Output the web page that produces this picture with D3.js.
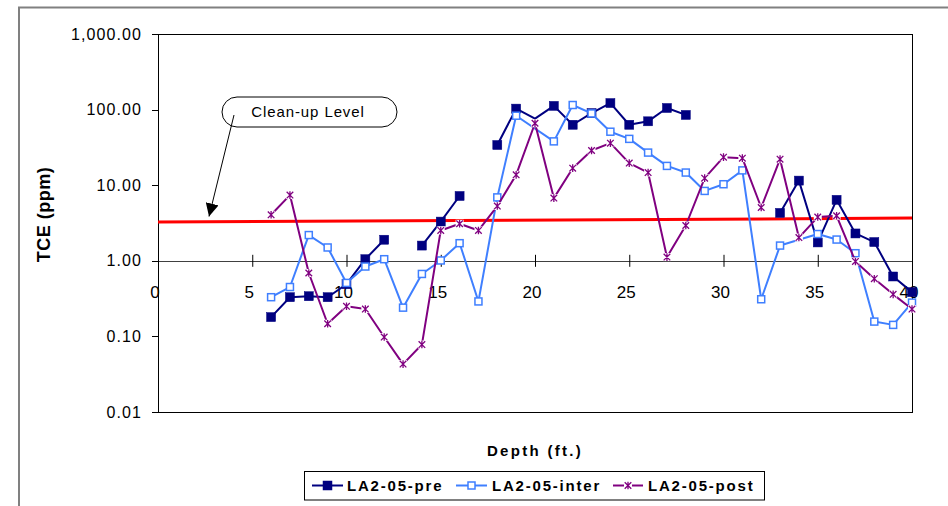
<!DOCTYPE html>
<html>
<head>
<meta charset="utf-8">
<script src="https://cdn.jsdelivr.net/npm/d3@7/dist/d3.min.js"></script>
<style>
  html, body { margin: 0; padding: 0; background: #fff; }
  svg { display: block; font-family: "Liberation Sans", Arial, sans-serif; }
</style>
</head>
<body>
<svg id="chart" width="948" height="506"></svg>
<script>
// TCE concentration profiles by depth, three sampling rounds
const preDepths = [6,7,8,9,10,11,12,13,14,15,16,17,18,19,20,21,22,23,24,25,26,27,28,29,30,31,32,33,34,35,36,37,38,39,40];
const preValues = [0.18,0.33,0.34,0.33,0.49,1.05,1.9,null,1.59,3.3,7.2,null,34,103,76,112,63,90,122,63,70,105,85,null,null,null,null,4.3,11.5,1.75,6.4,2.3,1.77,0.62,0.385];
const preNoMarker = [20];

const interDepths = [6,7,8,9,10,11,12,13,14,15,16,17,18,19,21,22,23,24,25,26,27,28,29,30,31,32,33,35,36,37,38,39,40];
const interValues = [0.33,0.45,2.19,1.5,0.51,0.84,1.05,0.24,0.67,1.01,1.71,0.29,6.9,83,38,115,89,51,41,27,18,14.7,8.4,10.3,15.7,0.31,1.59,2.26,1.91,1.26,0.157,0.142,0.28];

const postDepths = [6,7,8,9,10,11,12,13,14,15,16,17,18,19,20,21,22,23,24,25,26,27,28,29,30,31,32,33,34,35,36,37,38,39,40];
const postValues = [4.06,7.4,0.69,0.147,0.25,0.23,0.098,0.043,0.078,2.52,3.09,2.52,5.3,13.7,66,6.75,16.8,28.8,36,19.6,14.7,1.12,2.93,12.4,23.5,22.8,5.07,22.1,2.03,3.79,3.94,0.98,0.58,0.36,0.23];

// Clean-up level reference line (end points)
const cleanupDepths = [0, 40];
const cleanupValues = [3.25, 3.67];

const yTicks = [0.01, 0.1, 1, 10, 100, 1000];
const xTicks = [0, 5, 10, 15, 20, 25, 30, 35, 40];
const seriesNames = ["LA2-05-pre", "LA2-05-inter", "LA2-05-post"];
const seriesColors = ["#000080", "#3F7FFF", "#800080"];

const svg = d3.select("#chart");

// Outer chart frame
svg.append("rect")
  .attr("x", 19).attr("y", 7.5).attr("width", 1000).attr("height", 1000)
  .attr("fill", "none").attr("stroke", "#808080").attr("stroke-width", 2);

const x = d3.scaleLinear().domain([0, 40]).range([158, 912]);
const y = d3.scaleLog().domain([0.01, 1000]).range([412, 34]);

// Plot area border (top, right, bottom)
svg.append("path")
  .attr("d", `M${x(0)},${y(1000)}H${x(40)}V${y(0.01)}H${x(0)}`)
  .attr("fill", "none").attr("stroke", "#000").attr("stroke-width", 1)
  .attr("shape-rendering", "crispEdges");

// Y axis
const yAxis = svg.append("g")
  .attr("transform", `translate(${x(0)},0)`)
  .call(d3.axisLeft(y).tickValues(yTicks).tickFormat(d3.format(",.2f")).tickSize(6).tickSizeOuter(0).tickPadding(10));
yAxis.select(".domain").attr("stroke", "#000").attr("shape-rendering", "crispEdges");
yAxis.selectAll(".tick line").attr("stroke", "#000").attr("shape-rendering", "crispEdges");
yAxis.selectAll(".tick text")
  .attr("font-size", 16).attr("fill", "#000").attr("letter-spacing", 1.1)
  .attr("font-family", "Liberation Sans, Arial, sans-serif");

// X axis crossing at 1.00
const xAxis = svg.append("g")
  .attr("transform", `translate(0,${y(1)})`)
  .call(d3.axisBottom(x).tickValues(xTicks).tickFormat(d3.format("d")).tickSize(6).tickSizeOuter(0));
xAxis.select(".domain").attr("stroke", "#404040").attr("shape-rendering", "crispEdges");
xAxis.selectAll(".tick line").attr("stroke", "#000").attr("y1", -6).attr("y2", 6);
xAxis.selectAll(".tick text")
  .attr("font-size", 17).attr("fill", "#000")
  .attr("font-family", "Liberation Sans, Arial, sans-serif")
  .attr("y", 37.5).attr("dy", 0).attr("x", -3.5);

// Axis titles
svg.append("text")
  .attr("x", 535).attr("y", 456).attr("text-anchor", "middle")
  .attr("font-size", 15).attr("font-weight", "bold").attr("letter-spacing", 2.3)
  .text("Depth (ft.)");
svg.append("text")
  .attr("transform", "translate(49.5,214.5) rotate(-90)")
  .attr("text-anchor", "middle")
  .attr("font-size", 18).attr("font-weight", "bold").attr("letter-spacing", 0.5)
  .text("TCE (ppm)");

// Clean-up level line
svg.append("line")
  .attr("x1", x(cleanupDepths[0])).attr("y1", y(cleanupValues[0]))
  .attr("x2", x(cleanupDepths[1])).attr("y2", y(cleanupValues[1]))
  .attr("stroke", "#FF0000").attr("stroke-width", 3);

const line = d3.line()
  .defined(d => d.v != null)
  .x(d => x(d.d)).y(d => y(d.v));

function toPoints(depths, values) {
  return depths.map((d, i) => ({ d: d, v: values[i] }));
}

// Marker drawers
function squareFilled(g, cx, cy, color) {
  g.append("rect").attr("x", cx - 4.5).attr("y", cy - 4.5).attr("width", 9).attr("height", 9)
    .attr("fill", color).attr("stroke", color).attr("stroke-width", 0.5);
}
function squareOpen(g, cx, cy, color) {
  g.append("rect").attr("x", cx - 3.5).attr("y", cy - 3.5).attr("width", 7).attr("height", 7)
    .attr("fill", "#fff").attr("stroke", color).attr("stroke-width", 1.5);
}
function star(g, cx, cy, color) {
  g.append("rect").attr("x", cx - 4).attr("y", cy - 4).attr("width", 8).attr("height", 8).attr("fill", "#fff");
  const r = 3.3;
  g.append("path")
    .attr("d", `M${cx - r},${cy - r}L${cx + r},${cy + r}M${cx - r},${cy + r}L${cx + r},${cy - r}M${cx},${cy - r - 0.5}L${cx},${cy + r + 0.5}`)
    .attr("stroke", color).attr("stroke-width", 1.3).attr("fill", "none");
}

const series = [
  { pts: toPoints(preDepths, preValues), color: seriesColors[0], marker: squareFilled, hide: preNoMarker },
  { pts: toPoints(interDepths, interValues), color: seriesColors[1], marker: squareOpen, hide: [] },
  { pts: toPoints(postDepths, postValues), color: seriesColors[2], marker: star, hide: [] }
];

series.forEach(s => {
  const g = svg.append("g");
  g.append("path").datum(s.pts).attr("d", line)
    .attr("fill", "none").attr("stroke", s.color).attr("stroke-width", 2)
    .attr("stroke-linejoin", "round");
  s.pts.filter(p => p.v != null && !s.hide.includes(p.d))
    .forEach(p => s.marker(g, x(p.d), y(p.v), s.color));
});

// Callout
svg.append("rect")
  .attr("x", 222).attr("y", 97).attr("width", 175).attr("height", 30).attr("rx", 15).attr("ry", 15)
  .attr("fill", "#fff").attr("stroke", "#000").attr("stroke-width", 1);
svg.append("text")
  .attr("x", 308).attr("y", 116.5).attr("text-anchor", "middle")
  .attr("font-size", 15).attr("letter-spacing", 0.9)
  .text("Clean-up Level");
svg.append("defs").append("marker")
  .attr("id", "arrowhead").attr("viewBox", "0 0 10 10")
  .attr("refX", 10).attr("refY", 5)
  .attr("markerWidth", 13).attr("markerHeight", 13).attr("markerUnits", "userSpaceOnUse")
  .attr("orient", "auto")
  .append("path").attr("d", "M0,0L10,5L0,10Z").attr("fill", "#000");
svg.append("line")
  .attr("x1", 234).attr("y1", 115).attr("x2", 209).attr("y2", 216.5)
  .attr("stroke", "#000").attr("stroke-width", 1)
  .attr("marker-end", "url(#arrowhead)");

// Legend
const legend = svg.append("g");
legend.append("rect")
  .attr("x", 304.5).attr("y", 471.5).attr("width", 460).attr("height", 28.5)
  .attr("fill", "#fff").attr("stroke", "#000").attr("stroke-width", 1);
const legendItems = [
  { x0: 312, x1: 343, tx: 347 },
  { x0: 456, x1: 487, tx: 492 },
  { x0: 613, x1: 643, tx: 648 }
];
legendItems.forEach((it, i) => {
  const s = series[i];
  const ly = 485.5;
  legend.append("line").attr("x1", it.x0).attr("x2", it.x1).attr("y1", ly).attr("y2", ly)
    .attr("stroke", s.color).attr("stroke-width", 2);
  s.marker(legend, (it.x0 + it.x1) / 2, ly, s.color);
  legend.append("text").attr("x", it.tx).attr("y", ly + 5.5)
    .attr("font-size", 15).attr("font-weight", "bold").attr("letter-spacing", 1.8)
    .text(seriesNames[i]);
});
</script>
</body>
</html>
